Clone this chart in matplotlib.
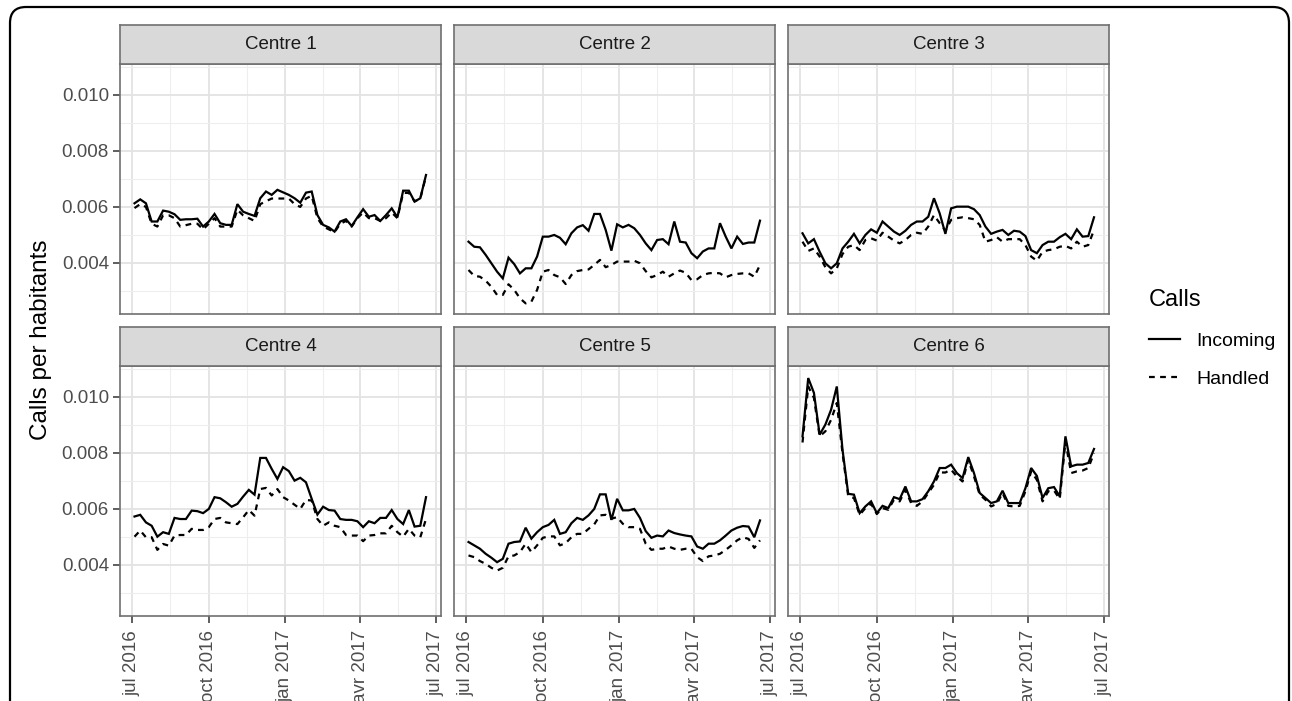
import matplotlib
matplotlib.use("Agg")
import matplotlib.pyplot as plt
from matplotlib.patches import FancyBboxPatch
from matplotlib.lines import Line2D
from matplotlib.transforms import ScaledTranslation, IdentityTransform
import pandas as pd

plt.rcParams["font.family"] = ["Liberation Sans", "DejaVu Sans"]

# weekly observations, jul 2016 -> jun 2017
weeks = pd.date_range("2016-07-04", "2017-06-19", periods=52)

centres = ["Centre 1", "Centre 2", "Centre 3", "Centre 4", "Centre 5", "Centre 6"]

incoming_1 = [0.00613, 0.00627, 0.00613, 0.00548, 0.00548, 0.00587, 0.00583, 0.00574, 0.00554, 0.00556,
              0.00556, 0.00558, 0.00530, 0.00548, 0.00575, 0.00542, 0.00536, 0.00536, 0.00610, 0.00583,
              0.00575, 0.00568, 0.00631, 0.00655, 0.00643, 0.00661, 0.00652, 0.00643, 0.00631, 0.00615,
              0.00651, 0.00655, 0.00571, 0.00536, 0.00527, 0.00512, 0.00548, 0.00556, 0.00532, 0.00563,
              0.00592, 0.00565, 0.00571, 0.00550, 0.00571, 0.00595, 0.00563, 0.00658, 0.00658, 0.00619,
              0.00631, 0.00714]
handled_1 = [0.00596, 0.00610, 0.00600, 0.00540, 0.00530, 0.00570, 0.00570, 0.00560, 0.00530, 0.00535,
             0.00540, 0.00540, 0.00520, 0.00540, 0.00560, 0.00530, 0.00530, 0.00530, 0.00590, 0.00570,
             0.00560, 0.00550, 0.00610, 0.00620, 0.00630, 0.00630, 0.00630, 0.00630, 0.00610, 0.00600,
             0.00630, 0.00640, 0.00560, 0.00530, 0.00520, 0.00510, 0.00540, 0.00550, 0.00530, 0.00560,
             0.00580, 0.00560, 0.00560, 0.00550, 0.00560, 0.00580, 0.00560, 0.00650, 0.00650, 0.00620,
             0.00630, 0.00710]

incoming_2 = [0.00476, 0.00458, 0.00456, 0.00429, 0.00399, 0.00369, 0.00345, 0.00419, 0.00396, 0.00363,
              0.00381, 0.00381, 0.00423, 0.00494, 0.00494, 0.00500, 0.00490, 0.00467, 0.00506, 0.00527,
              0.00535, 0.00515, 0.00575, 0.00575, 0.00518, 0.00444, 0.00538, 0.00527, 0.00536, 0.00524,
              0.00500, 0.00470, 0.00446, 0.00482, 0.00485, 0.00467, 0.00548, 0.00476, 0.00473, 0.00435,
              0.00417, 0.00441, 0.00452, 0.00452, 0.00542, 0.00494, 0.00452, 0.00494, 0.00468, 0.00473,
              0.00473, 0.00551]
handled_2 = [0.00375, 0.00354, 0.00351, 0.00337, 0.00315, 0.00286, 0.00286, 0.00324, 0.00304, 0.00274,
             0.00256, 0.00262, 0.00304, 0.00369, 0.00375, 0.00357, 0.00349, 0.00325, 0.00357, 0.00371,
             0.00375, 0.00377, 0.00393, 0.00411, 0.00385, 0.00393, 0.00405, 0.00405, 0.00405, 0.00408,
             0.00399, 0.00371, 0.00349, 0.00357, 0.00369, 0.00351, 0.00363, 0.00373, 0.00365, 0.00339,
             0.00342, 0.00357, 0.00363, 0.00365, 0.00363, 0.00349, 0.00357, 0.00361, 0.00363, 0.00363,
             0.00351, 0.00393]

incoming_3 = [0.00506, 0.00470, 0.00485, 0.00440, 0.00399, 0.00381, 0.00399, 0.00452, 0.00476, 0.00504,
              0.00470, 0.00500, 0.00520, 0.00508, 0.00548, 0.00530, 0.00512, 0.00500, 0.00515, 0.00536,
              0.00548, 0.00548, 0.00565, 0.00631, 0.00577, 0.00504, 0.00595, 0.00601, 0.00601, 0.00601,
              0.00592, 0.00571, 0.00530, 0.00504, 0.00512, 0.00518, 0.00500, 0.00515, 0.00512, 0.00496,
              0.00446, 0.00435, 0.00464, 0.00476, 0.00476, 0.00492, 0.00504, 0.00485, 0.00520, 0.00494,
              0.00496, 0.00563]
handled_3 = [0.00476, 0.00443, 0.00452, 0.00423, 0.00385, 0.00363, 0.00381, 0.00432, 0.00458, 0.00464,
             0.00446, 0.00482, 0.00488, 0.00480, 0.00508, 0.00494, 0.00480, 0.00470, 0.00482, 0.00500,
             0.00508, 0.00504, 0.00530, 0.00571, 0.00542, 0.00515, 0.00554, 0.00560, 0.00563, 0.00560,
             0.00556, 0.00536, 0.00476, 0.00482, 0.00492, 0.00476, 0.00485, 0.00485, 0.00485, 0.00464,
             0.00423, 0.00408, 0.00440, 0.00446, 0.00449, 0.00458, 0.00461, 0.00452, 0.00476, 0.00458,
             0.00464, 0.00518]

incoming_4 = [0.00573, 0.00579, 0.00552, 0.00540, 0.00501, 0.00517, 0.00511, 0.00568, 0.00564, 0.00564,
              0.00594, 0.00592, 0.00585, 0.00600, 0.00642, 0.00638, 0.00624, 0.00608, 0.00618, 0.00644,
              0.00668, 0.00651, 0.00782, 0.00782, 0.00743, 0.00707, 0.00749, 0.00735, 0.00701, 0.00711,
              0.00695, 0.00636, 0.00580, 0.00608, 0.00596, 0.00594, 0.00564, 0.00561, 0.00561, 0.00556,
              0.00535, 0.00556, 0.00549, 0.00568, 0.00568, 0.00596, 0.00564, 0.00546, 0.00596, 0.00537,
              0.00540, 0.00642]
handled_4 = [0.00501, 0.00523, 0.00499, 0.00499, 0.00454, 0.00475, 0.00469, 0.00505, 0.00507, 0.00507,
             0.00529, 0.00525, 0.00525, 0.00535, 0.00564, 0.00568, 0.00552, 0.00549, 0.00546, 0.00570,
             0.00596, 0.00576, 0.00671, 0.00675, 0.00648, 0.00671, 0.00642, 0.00630, 0.00615, 0.00600,
             0.00632, 0.00630, 0.00564, 0.00540, 0.00552, 0.00540, 0.00535, 0.00507, 0.00505, 0.00505,
             0.00485, 0.00505, 0.00507, 0.00513, 0.00513, 0.00540, 0.00517, 0.00501, 0.00529, 0.00505,
             0.00499, 0.00564]

incoming_5 = [0.00482, 0.00470, 0.00458, 0.00440, 0.00426, 0.00410, 0.00422, 0.00476, 0.00482, 0.00484,
              0.00533, 0.00494, 0.00517, 0.00535, 0.00543, 0.00561, 0.00511, 0.00517, 0.00549, 0.00568,
              0.00561, 0.00577, 0.00600, 0.00652, 0.00652, 0.00561, 0.00636, 0.00595, 0.00595, 0.00600,
              0.00568, 0.00521, 0.00497, 0.00505, 0.00502, 0.00523, 0.00514, 0.00509, 0.00505, 0.00502,
              0.00466, 0.00458, 0.00476, 0.00476, 0.00488, 0.00505, 0.00523, 0.00533, 0.00539, 0.00537,
              0.00499, 0.00559]
handled_5 = [0.00434, 0.00428, 0.00414, 0.00404, 0.00390, 0.00380, 0.00390, 0.00431, 0.00434, 0.00446,
             0.00476, 0.00446, 0.00470, 0.00497, 0.00502, 0.00502, 0.00470, 0.00478, 0.00499, 0.00511,
             0.00511, 0.00529, 0.00545, 0.00577, 0.00579, 0.00565, 0.00571, 0.00547, 0.00535, 0.00535,
             0.00529, 0.00476, 0.00454, 0.00458, 0.00458, 0.00466, 0.00458, 0.00454, 0.00458, 0.00458,
             0.00428, 0.00414, 0.00431, 0.00434, 0.00440, 0.00454, 0.00470, 0.00488, 0.00499, 0.00493,
             0.00461, 0.00488]

incoming_6 = [0.00859, 0.01067, 0.01014, 0.00865, 0.00901, 0.00954, 0.01037, 0.00811, 0.00654, 0.00651,
              0.00585, 0.00609, 0.00627, 0.00585, 0.00611, 0.00603, 0.00642, 0.00635, 0.00680, 0.00627,
              0.00627, 0.00635, 0.00663, 0.00698, 0.00746, 0.00746, 0.00758, 0.00728, 0.00710, 0.00785,
              0.00728, 0.00657, 0.00639, 0.00621, 0.00627, 0.00665, 0.00621, 0.00621, 0.00621, 0.00674,
              0.00746, 0.00718, 0.00639, 0.00674, 0.00678, 0.00645, 0.00859, 0.00752, 0.00758, 0.00758,
              0.00764, 0.00814]
handled_6 = [0.00837, 0.01037, 0.00996, 0.00859, 0.00877, 0.00918, 0.00978, 0.00799, 0.00645, 0.00639,
             0.00579, 0.00603, 0.00618, 0.00582, 0.00603, 0.00597, 0.00633, 0.00627, 0.00668, 0.00621,
             0.00611, 0.00627, 0.00657, 0.00686, 0.00730, 0.00730, 0.00740, 0.00716, 0.00698, 0.00776,
             0.00716, 0.00651, 0.00633, 0.00609, 0.00618, 0.00657, 0.00611, 0.00609, 0.00611, 0.00663,
             0.00734, 0.00704, 0.00627, 0.00663, 0.00666, 0.00635, 0.00841, 0.00728, 0.00734, 0.00737,
             0.00746, 0.00799]

incoming = [incoming_1, incoming_2, incoming_3, incoming_4, incoming_5, incoming_6]
handled = [handled_1, handled_2, handled_3, handled_4, handled_5, handled_6]

x_ticks = pd.to_datetime(["2016-07-01", "2016-10-01", "2017-01-01", "2017-04-01", "2017-07-01"])
x_labels = ["jul 2016", "oct 2016", "jan 2017", "avr 2017", "jul 2017"]
y_ticks = [0.004, 0.006, 0.008, 0.010]
y_labels = ["0.004", "0.006", "0.008", "0.010"]

W, H = 1292, 701
fig = plt.figure(figsize=(W / 100, H / 100), dpi=100)

# outer rounded frame, open at the bottom
frame = FancyBboxPatch((10, -60), 1279, 754, boxstyle="round,pad=0,rounding_size=16",
                       transform=IdentityTransform(), fill=False, edgecolor="black", lw=1.6)
fig.add_artist(frame)

col_left = [120, 454, 788]
panel_w = 321
row_top = [64, 366]
panel_h = 250
strip_h = 39

x_lim = (pd.Timestamp("2016-06-16 14:00"), pd.Timestamp("2017-07-07"))
y_lim = (0.00218, 0.01110)

x_minor = [x_ticks[i] + (x_ticks[i + 1] - x_ticks[i]) / 2 for i in range(len(x_ticks) - 1)]
y_minor = [0.003, 0.005, 0.007, 0.009, 0.011]

border = "#707070"
dash = (0, (2.6, 2.4))

for k, name in enumerate(centres):
    r, c = divmod(k, 3)
    l = col_left[c] / W
    b = 1 - (row_top[r] + panel_h) / H
    ax = fig.add_axes([l, b, panel_w / W, panel_h / H])
    ax.plot(weeks, incoming[k], color="black", lw=1.6, solid_joinstyle="miter")
    ax.plot(weeks, handled[k], color="black", lw=1.6, linestyle=dash)
    ax.set_xlim(x_lim)
    ax.set_ylim(y_lim)
    ax.set_xticks(x_ticks)
    ax.set_xticks(x_minor, minor=True)
    ax.set_yticks(y_ticks)
    ax.set_yticks(y_minor, minor=True)
    ax.grid(which="major", color="#e3e3e3", lw=1.3, zorder=0)
    ax.grid(which="minor", color="#eeeeee", lw=0.8, zorder=0)
    ax.set_axisbelow(True)
    for s in ax.spines.values():
        s.set_color(border)
        s.set_linewidth(1.2)
    ax.tick_params(which="minor", length=0)
    ax.tick_params(which="major", length=5, width=1.1, color="#333333", labelsize=13.5,
                   labelcolor="#4d4d4d", pad=3)
    if c == 0:
        ax.set_yticklabels(y_labels)
    else:
        ax.tick_params(axis="y", which="major", length=0, labelleft=False)
    if r == 1:
        ax.set_xticklabels(x_labels, rotation=90, ha="center", va="top")
        offset = ScaledTranslation(5 / 100, 0, fig.dpi_scale_trans)
        for lab in ax.get_xticklabels():
            lab.set_transform(lab.get_transform() + offset)
        ax.tick_params(axis="x", pad=5)
    else:
        ax.tick_params(axis="x", which="major", length=0, labelbottom=False)

    # facet strip
    sax = fig.add_axes([l, 1 - row_top[r] / H, panel_w / W, strip_h / H])
    sax.set_facecolor("#d9d9d9")
    sax.set_xticks([])
    sax.set_yticks([])
    for s in sax.spines.values():
        s.set_color(border)
        s.set_linewidth(1.2)
    sax.text(0.5, 0.5, name, ha="center", va="center", fontsize=13.5, color="#1a1a1a",
             transform=sax.transAxes)

fig.text(41 / W, 1 - 340 / H, "Calls per habitants", rotation=90, ha="center", va="center",
         fontsize=17.5, color="black")

handles = [Line2D([], [], color="black", lw=1.6),
           Line2D([], [], color="black", lw=1.6, linestyle=dash)]
fig.legend(handles, ["Incoming", "Handled"], title="Calls", loc="upper left",
           bbox_to_anchor=(1131 / W, 1 - 272 / H), frameon=False, fontsize=14,
           title_fontsize=17, handlelength=1.6, handletextpad=0.85, labelspacing=1.05,
           alignment="left")

fig.savefig("out.png", dpi=100)
